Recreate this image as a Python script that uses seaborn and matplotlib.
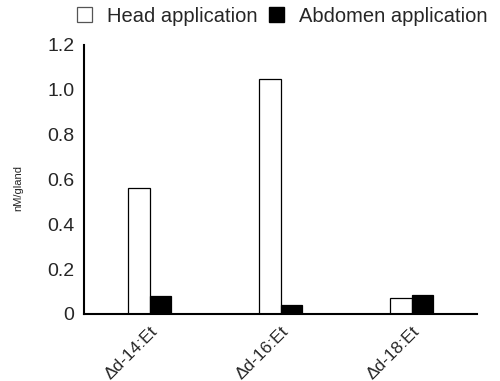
import matplotlib
matplotlib.use("Agg")
import matplotlib.pyplot as plt
import seaborn as sns
import pandas as pd
from matplotlib.patches import Patch
from matplotlib.ticker import FixedLocator

categories = ["Δd-14:Et", "Δd-16:Et", "Δd-18:Et"]
head_values = [0.56, 1.05, 0.07]
abdomen_values = [0.08, 0.04, 0.085]
series_names = ["Head application", "Abdomen application"]
ytick_values = [0, 0.2, 0.4, 0.6, 0.8, 1.0, 1.2]
ytick_labels = ["0", "0.2", "0.4", "0.6", "0.8", "1.0", "1.2"]

sns.set_style("white")
plt.rcParams["font.family"] = ["Liberation Sans", "DejaVu Sans"]

df = pd.DataFrame({
    "category": categories * 2,
    "value": head_values + abdomen_values,
    "series": [series_names[0]] * 3 + [series_names[1]] * 3,
})

fig = plt.figure(figsize=(5.0, 3.81), dpi=100)
ax = fig.add_axes([0.168, 0.176, 0.786, 0.706])

sns.barplot(data=df, x="category", y="value", hue="series",
            palette={series_names[0]: "white", series_names[1]: "black"},
            edgecolor="black", linewidth=0.9, width=0.33, gap=0,
            ax=ax, legend=False, errorbar=None)

ax.set_xlim(-0.5, 2.5)
ax.set_ylim(0, 1.2)
ax.set_yticks(ytick_values)
ax.set_yticklabels(ytick_labels, fontsize=14)
ax.set_xlabel("")
ax.set_ylabel("nM/gland", fontsize=8)
ax.yaxis.set_label_coords(-0.155, 0.47)

ax.xaxis.set_minor_locator(FixedLocator([-0.5, 0.5, 1.5, 2.5]))
ax.tick_params(axis="x", which="major", length=0, pad=7)
ax.tick_params(axis="x", which="minor", length=4, width=1.2, direction="in", color="black")
ax.tick_params(axis="y", which="major", length=4, width=1.2, direction="out", color="black", pad=3)
ax.set_xticks(range(len(categories)))
ax.set_xticklabels(categories, fontsize=12.5, rotation=45, ha="right", rotation_mode="anchor")

for side in ["top", "right"]:
    ax.spines[side].set_visible(False)
for side in ["left", "bottom"]:
    ax.spines[side].set_color("black")
    ax.spines[side].set_linewidth(1.5)

handles = [Patch(facecolor="white", edgecolor="#555555", linewidth=0.9),
           Patch(facecolor="black", edgecolor="black")]
fig.legend(handles, series_names, loc="upper left", bbox_to_anchor=(0.118, 1.03),
           ncol=2, frameon=False, fontsize=14.5, handlelength=0.72, handleheight=0.72,
           handletextpad=0.75, columnspacing=0.6)

fig.savefig("out.png", dpi=100)
